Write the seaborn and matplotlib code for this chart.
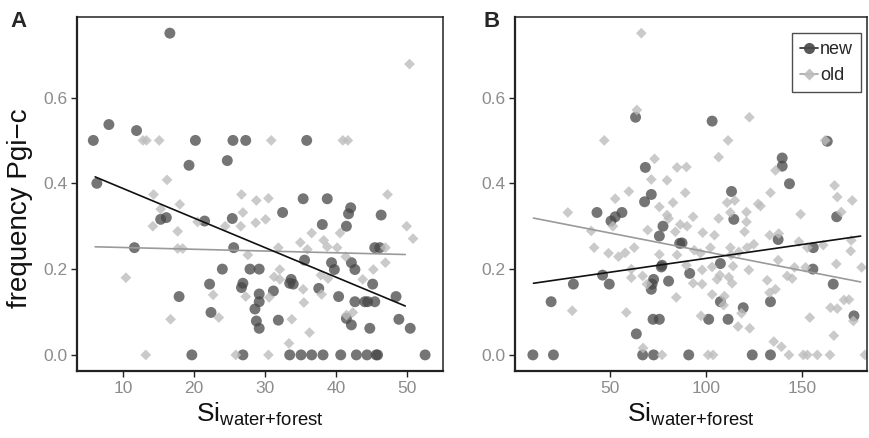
import numpy as np
import pandas as pd
import matplotlib
matplotlib.use("Agg")
import matplotlib.pyplot as plt
from matplotlib.lines import Line2D
import seaborn as sns

# datos leidos del grafico
# panel A: Si (water+forest) vs frecuencia Pgi-c
a_new_x = [16.6, 5.8, 8.0, 11.9, 20.2, 25.5, 27.3, 19.3, 24.7, 6.3, 35.9, 35.4, 38.8,
           15.3, 16.1, 21.5, 25.4, 11.6, 25.6, 24.0, 22.2, 26.9, 26.7, 17.9, 22.4, 19.7, 26.9,
           32.5, 42.1, 41.8, 46.4, 38.1, 41.5, 45.5, 46.2, 35.6, 39.4, 39.8, 42.2, 42.7,
           27.9, 29.2, 33.7, 34.0, 33.5, 45.2, 37.6, 31.2, 29.2, 29.2, 40.4, 48.5,
           42.7, 44.1, 44.5, 45.5, 28.6, 28.8, 29.2, 31.9, 41.5, 42.2, 44.8, 48.9, 50.5,
           33.5, 35.1, 36.6, 38.2, 40.7, 42.9, 44.4, 45.7, 45.9, 52.6]
a_new_y = [0.75, 0.5, 0.537, 0.523, 0.5, 0.5, 0.5, 0.442, 0.453, 0.40, 0.5, 0.364, 0.364,
           0.316, 0.32, 0.312, 0.318, 0.25, 0.25, 0.2, 0.165, 0.167, 0.157, 0.136, 0.099, 0.0, 0.0,
           0.332, 0.343, 0.329, 0.326, 0.304, 0.30, 0.25, 0.25, 0.221, 0.215, 0.199, 0.215, 0.199,
           0.2, 0.2, 0.176, 0.165, 0.167, 0.165, 0.155, 0.149, 0.142, 0.124, 0.136, 0.136,
           0.124, 0.124, 0.124, 0.124, 0.107, 0.079, 0.062, 0.081, 0.085, 0.07, 0.062, 0.083, 0.062,
           0.0, 0.0, 0.0, 0.0, 0.0, 0.0, 0.0, 0.0, 0.0, 0.0]
a_old_x = [12.8, 13.3, 15.1, 16.2, 14.3, 26.7, 50.4, 30.9, 41.0, 41.7, 28.8, 30.5, 47.3,
           15.3, 18.0, 14.2, 17.7, 20.5, 24.4, 26.9, 26.6, 17.7, 18.4, 27.6, 10.4, 22.7, 27.3,
           16.7, 23.5, 13.2, 25.9,
           28.7, 30.1, 50.0, 50.9, 36.6, 40.6, 35.0, 38.3, 38.8, 31.9, 36.0, 40.2, 47.0,
           41.4, 47.0, 32.1, 45.3, 31.3, 32.1, 37.9, 38.9, 43.8, 35.4, 30.6, 38.0, 35.5,
           33.8, 42.4, 41.5, 36.3, 33.4, 30.5]
a_old_y = [0.5, 0.5, 0.5, 0.408, 0.374, 0.374, 0.678, 0.5, 0.5, 0.5, 0.36, 0.365, 0.374,
           0.34, 0.351, 0.30, 0.288, 0.31, 0.30, 0.332, 0.30, 0.248, 0.248, 0.233, 0.18, 0.14, 0.136,
           0.083, 0.087, 0.0, 0.0,
           0.308, 0.316, 0.30, 0.271, 0.284, 0.284, 0.262, 0.267, 0.252, 0.25, 0.246, 0.25, 0.25,
           0.229, 0.215, 0.199, 0.199, 0.182, 0.176, 0.186, 0.178, 0.176, 0.153, 0.134, 0.141, 0.122,
           0.083, 0.099, 0.093, 0.052, 0.027, 0.0]

# panel B
b_new_x = [63.2, 68.3, 71.4, 103.1, 163.1, 139.6, 139.6, 143.4, 113.2,
           67.9, 43.1, 52.6, 50.4, 56.1, 77.5, 75.6, 86.2, 77.0, 76.6, 46.0, 49.5, 30.8,
           72.6, 71.8, 71.4, 80.4, 19.2, 72.3, 75.6, 63.6, 9.7, 20.4, 66.9, 72.6,
           114.4, 168.0, 87.4, 137.5, 155.8, 107.4, 155.6, 91.4, 166.2, 107.4, 119.3, 133.5,
           177.0, 101.3, 111.4, 90.9, 124.0, 133.5]
b_new_y = [0.554, 0.437, 0.374, 0.545, 0.498, 0.459, 0.44, 0.399, 0.381,
           0.357, 0.332, 0.322, 0.312, 0.332, 0.30, 0.277, 0.26, 0.209, 0.205, 0.186, 0.165, 0.165,
           0.176, 0.165, 0.153, 0.172, 0.124, 0.083, 0.083, 0.049, 0.0, 0.0, 0.0, 0.0,
           0.316, 0.322, 0.261, 0.269, 0.25, 0.213, 0.2, 0.19, 0.165, 0.124, 0.11, 0.124,
           0.091, 0.083, 0.083, 0.0, 0.0, 0.0]
b_old_x = [66.2, 63.9, 46.9, 73.1, 71.4, 79.6, 84.8, 59.7, 52.6,
           122.5, 111.4, 162.0, 106.5, 136.1, 89.7, 166.9, 89.1, 133.5, 168.3, 176.1,
           75.6, 82.7, 27.9, 51.4, 79.6, 80.4, 69.5, 40.1, 83.9, 41.6, 49.1, 54.3, 57.8, 62.5,
           75.6, 84.8, 61.0, 61.0, 66.9, 69.1, 84.4, 30.2, 58.4, 67.1, 77.0,
           110.9, 114.9, 127.1, 128.3, 106.5, 112.6, 121.0, 121.0, 149.2, 170.4, 93.2, 86.5, 90.0,
           98.2, 104.3, 120.0, 133.1, 137.8, 93.8, 102.2, 112.6, 121.3, 124.8, 148.3, 152.7,
           161.0, 175.6, 175.3, 97.0, 113.0, 117.0, 137.5, 167.8, 103.1, 89.7, 114.0, 122.2,
           146.0, 151.8, 142.2, 144.8, 181.0, 97.9, 97.9, 93.2, 105.7, 107.1, 111.8, 113.5,
           131.8, 136.1, 133.0, 103.1, 109.5, 109.1, 118.4, 164.8, 168.3, 171.8, 174.4, 176.7,
           97.3, 116.6, 122.7, 154.0, 166.5, 135.2, 139.2,
           101.0, 103.6, 143.1, 150.6, 152.7, 157.9, 164.5, 182.7]
b_old_y = [0.75, 0.571, 0.5, 0.457, 0.409, 0.407, 0.437, 0.381, 0.364,
           0.554, 0.5, 0.5, 0.461, 0.43, 0.438, 0.395, 0.378, 0.378, 0.368, 0.36,
           0.345, 0.355, 0.332, 0.30, 0.326, 0.318, 0.291, 0.289, 0.287, 0.25, 0.237, 0.229, 0.238, 0.25,
           0.234, 0.233, 0.2, 0.18, 0.184, 0.165, 0.134, 0.103, 0.099, 0.016, 0.0,
           0.355, 0.36, 0.352, 0.347, 0.318, 0.332, 0.333, 0.31, 0.328, 0.333, 0.322, 0.304, 0.30,
           0.285, 0.279, 0.287, 0.279, 0.283, 0.244, 0.25, 0.25, 0.25, 0.258, 0.264, 0.25,
           0.256, 0.267, 0.242, 0.237, 0.233, 0.24, 0.221, 0.212, 0.205, 0.209, 0.207, 0.198,
           0.204, 0.204, 0.184, 0.178, 0.204, 0.198, 0.165, 0.167, 0.176, 0.186, 0.181, 0.167,
           0.174, 0.153, 0.145, 0.141, 0.137, 0.116, 0.097, 0.11, 0.108, 0.128, 0.129, 0.079,
           0.091, 0.066, 0.062, 0.087, 0.045, 0.031, 0.019,
           0.0, 0.0, 0.0, 0.0, 0.0, 0.0, 0.0, 0.0]

# rectas ajustadas (extremos)
fit_a_x = [6.06, 49.8]
fit_a_new = [0.415, 0.114]
fit_a_old = [0.252, 0.234]
fit_b_x = [10.0, 180.5]
fit_b_new = [0.167, 0.277]
fit_b_old = [0.319, 0.170]

grupos = ["new", "old"]
paneles = ["A", "B"]

# estilo
sns.set_theme(style="white")
plt.rcParams["font.family"] = ["Liberation Sans", "DejaVu Sans"]
plt.rcParams["mathtext.default"] = "regular"

col_pts = {"new": "#474747", "old": "#bdbdbd"}
col_lin = {"new": "#111111", "old": "#9a9a9a"}
marcas = {"new": "o", "old": "D"}
tam = {"new": 62, "old": 30}
alfa = {"new": 0.75, "old": 0.8}

fig = plt.figure(figsize=(8.7, 4.38), dpi=100)
ax_a = fig.add_axes([0.0885, 0.153, 0.4205, 0.808])
ax_b = fig.add_axes([0.592, 0.153, 0.405, 0.808])

datos = {
    "A": {"new": (a_new_x, a_new_y), "old": (a_old_x, a_old_y)},
    "B": {"new": (b_new_x, b_new_y), "old": (b_old_x, b_old_y)},
}
rectas = {
    "A": {"new": (fit_a_x, fit_a_new), "old": (fit_a_x, fit_a_old)},
    "B": {"new": (fit_b_x, fit_b_new), "old": (fit_b_x, fit_b_old)},
}

for ax, p in zip([ax_a, ax_b], paneles):
    for g in grupos:
        x, y = datos[p][g]
        df = pd.DataFrame({"x": x, "y": y})
        sns.scatterplot(data=df, x="x", y="y", ax=ax, marker=marcas[g], s=tam[g],
                        color=col_pts[g], alpha=alfa[g], edgecolor="none", zorder=2)
    for g in ["old", "new"]:
        x, y = rectas[p][g]
        sns.lineplot(x=x, y=y, ax=ax, color=col_lin[g], lw=1.2, zorder=3)
    ax.set_ylim(-0.0375, 0.7875)
    ax.set_yticks([0.0, 0.2, 0.4, 0.6])
    ax.set_yticklabels(["0.0", "0.2", "0.4", "0.6"])
    ax.set_xlabel(r"Si$_{water{+}forest}$", fontsize=19, color="#111111", labelpad=4)
    ax.set_ylabel("")
    ax.tick_params(axis="both", direction="out", length=4, width=1, color="#222222",
                   labelsize=12.5, labelcolor="#8c8c8c", pad=3, bottom=True, left=True)
    for s in ax.spines.values():
        s.set_color("#222222")
        s.set_linewidth(1.1)
    ax.spines["left"].set_linewidth(1.6)
    ax.spines["bottom"].set_linewidth(1.6)

ax_a.set_xlim(3.5, 55.1)
ax_a.set_xticks([10, 20, 30, 40, 50])
ax_b.set_xlim(0.4, 184)
ax_b.set_xticks([50, 100, 150])
ax_a.set_ylabel("frequency Pgi\u2212c", fontsize=20, color="#111111")
ax_a.yaxis.set_label_coords(-0.12, 0.46)

# leyenda
manejos = [Line2D([0], [0], color=col_lin[g], lw=1.2, marker=marcas[g],
                  markersize=8 if g == "new" else 6, markerfacecolor=col_pts[g],
                  markeredgecolor="none", alpha=0.9) for g in grupos]
leg = ax_b.legend(manejos, grupos, loc="upper right", bbox_to_anchor=(0.998, 0.97),
                  fontsize=13, frameon=True, fancybox=False, handlelength=1.0,
                  handletextpad=0.1, borderpad=0.45, labelspacing=0.5,
                  borderaxespad=0.3)
leg.get_frame().set_edgecolor("#222222")
leg.get_frame().set_linewidth(1.0)

fig.text(0.012, 0.975, "A", fontsize=16, fontweight="bold", va="top", ha="left")
fig.text(0.556, 0.975, "B", fontsize=16, fontweight="bold", va="top", ha="left")

fig.savefig("out.png", dpi=100)
plt.close()
